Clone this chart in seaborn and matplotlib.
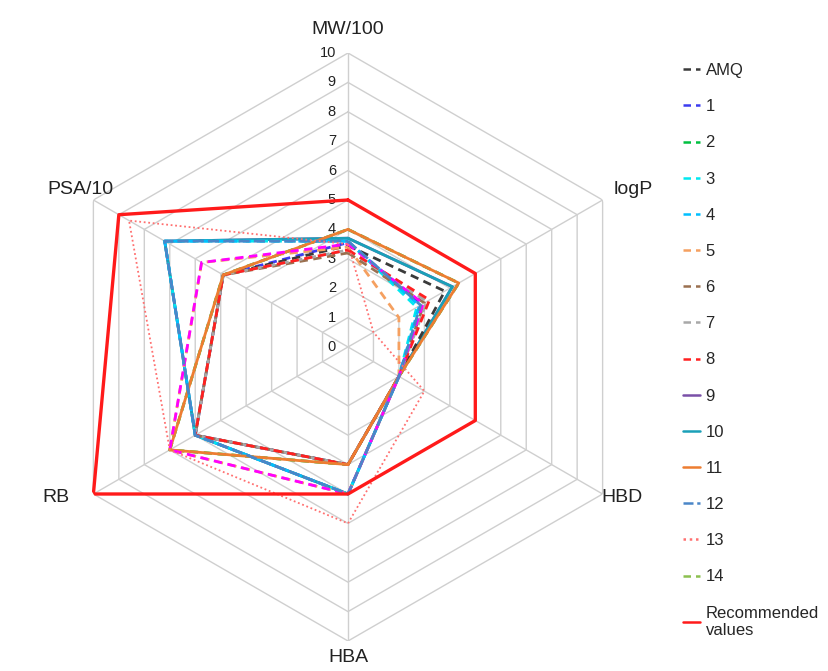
import numpy as np
import pandas as pd
import matplotlib
matplotlib.use("Agg")
import matplotlib.pyplot as plt
import seaborn as sns
from matplotlib.transforms import offset_copy

# ---------------- data ----------------
categories = ["MW/100", "logP", "HBD", "HBA", "RB", "PSA/10"]
radial_ticks = list(range(0, 11))

amq = [3.45, 3.8, 2.0, 4.0, 6.0, 4.9]
s1 = [3.55, 2.9, 2.0, 4.0, 6.0, 4.9]
s2 = [4.0, 4.35, 2.0, 4.0, 7.0, 4.9]
s3 = [3.6, 2.7, 2.0, 5.0, 6.0, 7.2]
s4 = [3.6, 2.8, 2.0, 5.0, 6.0, 7.2]
s5 = [3.4, 2.0, 2.0, 5.0, 7.0, 5.75]
s6 = [3.2, 3.0, 2.0, 4.0, 6.0, 4.9]
s7 = [3.3, 3.1, 2.0, 4.0, 6.0, 4.9]
s8 = [3.3, 3.2, 2.0, 4.0, 6.0, 4.9]
s9 = [3.7, 4.1, 2.0, 5.0, 6.0, 7.2]
s10 = [3.7, 4.1, 2.0, 5.0, 6.0, 7.2]
s11 = [4.0, 4.35, 2.0, 4.0, 7.0, 4.9]
s12 = [3.6, 2.85, 2.0, 5.0, 6.0, 7.2]
s13 = [3.5, 1.0, 3.0, 6.0, 7.0, 8.6]
s14 = [4.0, 4.35, 2.0, 4.0, 7.0, 4.9]
s_magenta = [3.5, 2.95, 2.0, 5.0, 7.0, 5.75]
recommended = [5.0, 5.0, 5.0, 5.0, 10.0, 9.0]

# name, values, color, linestyle, linewidth, zorder
specs = [
    ("AMQ", amq, "#3a3a3a", (0, (3, 2)), 2.0, 5),
    ("1", s1, "#3c3cf0", (0, (3, 2)), 2.0, 4),
    ("2", s2, "#00c040", (0, (3, 2)), 2.0, 1),
    ("3", s3, "#00e8f0", (0, (3, 2)), 2.0, 6),
    ("4", s4, "#00bfff", (0, (3, 2)), 2.0, 6.5),
    ("5", s5, "#f5a060", (0, (3, 2)), 2.0, 7),
    ("6", s6, "#9a7050", (0, (3, 2)), 2.0, 8),
    ("7", s7, "#a8a8a8", (0, (3, 2)), 2.0, 8.5),
    ("8", s8, "#ff2020", (0, (3, 2)), 2.0, 9),
    ("9", s9, "#7a50a8", "-", 2.0, 1),
    ("10", s10, "#1aa0b8", "-", 2.0, 3),
    ("11", s11, "#ed7d31", "-", 2.0, 10),
    ("12", s12, "#4a86c8", (0, (4, 1.5)), 2.0, 11),
    ("13", s13, "#ff7070", (0, (1, 1.5)), 1.3, 12),
    ("14", s14, "#8cc050", (0, (3, 2)), 2.0, 1),
    ("_nolegend_", s_magenta, "#ff00ff", (0, (3, 2)), 2.0, 10.5),
    ("Recommended\nvalues", recommended, "#ff1a1a", "-", 2.4, 20),
]

# ---------------- figure ----------------
sns.set_style("white")
plt.rcParams["font.family"] = ["Liberation Sans", "DejaVu Sans"]

W, H = 829, 671
fig = plt.figure(figsize=(W / 100, H / 100), dpi=100)
cx, cy, R = 348, 347, 294
ax = fig.add_axes([(cx - R) / W, (H - cy - R) / H, 2 * R / W, 2 * R / H],
                  projection="polar")
ax.set_theta_offset(np.pi / 2)
ax.set_theta_direction(-1)

n = len(categories)
theta = np.linspace(0, 2 * np.pi, n, endpoint=False)
theta_closed = np.append(theta, 2 * np.pi)

grid_c = "#cfcfcf"
for k in radial_ticks[1:]:
    ax.plot(theta_closed, [k] * (n + 1), color=grid_c, lw=1.0, zorder=0)
for t in theta:
    ax.plot([t, t], [0, 10], color=grid_c, lw=1.0, zorder=0)

for name, vals, color, ls, lw, z in specs:
    df = pd.DataFrame({"theta": theta_closed, "value": list(vals) + [vals[0]]})
    sns.lineplot(data=df, x="theta", y="value", ax=ax, color=color,
                 linestyle=ls, linewidth=lw, label=name, sort=False,
                 estimator=None, zorder=z, legend=True)

ax.set_ylim(0, 10)
ax.set_xticks([])
ax.set_yticks([])
ax.grid(False)
ax.spines["polar"].set_visible(False)
ax.set_xlabel("")
ax.set_ylabel("")

# radial tick labels along MW axis
tr = offset_copy(ax.transData, fig=fig, x=-12, y=0, units="dots")
for k in radial_ticks:
    ax.text(0, k, str(k), transform=tr, ha="right", va="center",
            fontsize=10.5, color="#222222")

# category labels
label_pos = {
    "MW/100": (348, 30), "logP": (633, 190), "HBD": (622, 497),
    "HBA": (348, 658), "RB": (56, 497), "PSA/10": (80, 190),
}
for c in categories:
    x, y = label_pos[c]
    fig.text(x / W, 1 - y / H, c, ha="center", va="center", fontsize=14,
             color="#222222")

handles, labels = ax.get_legend_handles_labels()
if ax.get_legend() is not None:
    ax.get_legend().remove()
leg = fig.legend(handles, labels, loc="upper left",
                 bbox_to_anchor=(683 / W, 1 - 63 / H), frameon=False,
                 fontsize=12, handlelength=1.0, handletextpad=0.35,
                 labelspacing=1.27, borderpad=0, borderaxespad=0)
for h in leg.get_lines():
    h.set_linewidth(1.8)

fig.savefig("out.png", dpi=100, facecolor="white")
